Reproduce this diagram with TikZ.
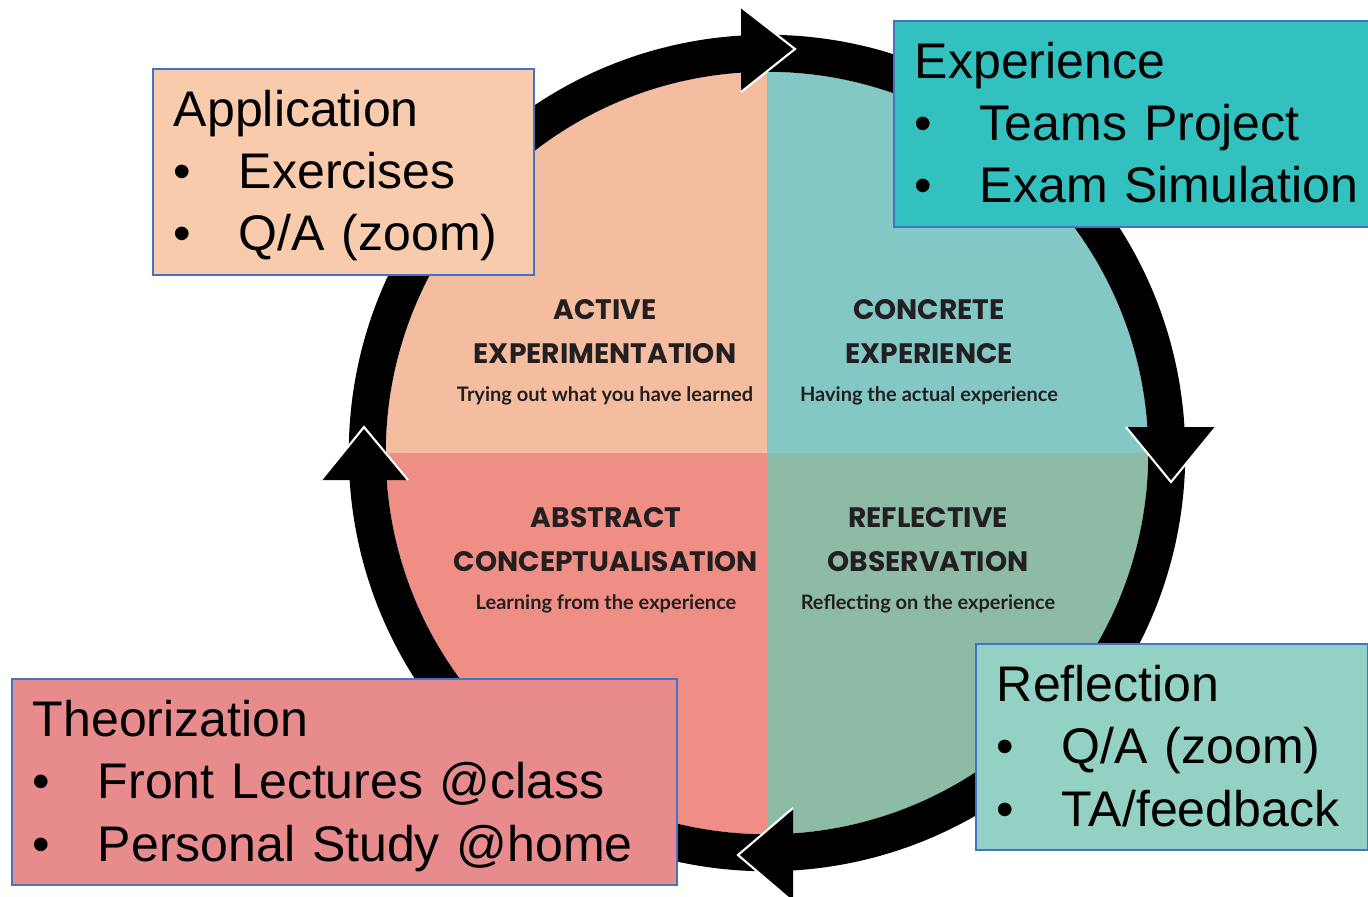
\documentclass[tikz,border=0pt]{standalone}
\usepackage{fontspec}
\setmainfont{Liberation Sans}
\newfontfamily\cyclefont{Poppins}
\newfontfamily\notefont{Lato}
\usepackage{tikz}
\usetikzlibrary{positioning}

\definecolor{boxblue}{HTML}{4472C4}
\definecolor{qactive}{HTML}{F4BD9F}
\definecolor{qconcrete}{HTML}{84C8C6}
\definecolor{qabstract}{HTML}{EE8E85}
\definecolor{qreflect}{HTML}{8EBBA6}
\definecolor{appfill}{HTML}{F8CBAD}
\definecolor{expfill}{HTML}{33C1BF}
\definecolor{theofill}{HTML}{E78B8D}
\definecolor{reffill}{HTML}{93D1C5}
\definecolor{labelink}{HTML}{231F20}

\newcommand{\itm}{\makebox[0.65cm][l]{\textbullet}}
\newcommand{\subline}[1]{{\notefont\bfseries\fontsize{5.69pt}{12.52pt}\selectfont #1}}

\tikzset{
  stagebox/.style={draw=boxblue, line width=0.5pt, anchor=north west, align=left,
    inner xsep=0.21cm, inner ysep=0.15cm, text height=0.43cm, text depth=1.33cm,
    font=\fontsize{14.23pt}{17.64pt}\selectfont},
  quadlabel/.style={text width=3.4cm, align=flush center, anchor=base, inner sep=0pt,
    text=labelink, font=\cyclefont\bfseries\fontsize{8pt}{12.52pt}\selectfont},
  tipline/.style={white, line width=0.6pt, line join=miter}
}

\begin{document}
\begin{tikzpicture}[x=0.01cm, y=-0.01cm]
    \clip (0,0) rectangle (1368,896);
    \coordinate (c) at (767,453);

    \begin{scope}
    \clip (c) circle (3.81cm);
    \fill[qactive] (c) rectangle (350,40);
    \fill[qconcrete] (c) rectangle (1190,40);
    \fill[qabstract] (c) rectangle (350,870);
    \fill[qreflect] (c) rectangle (1190,870);
    \end{scope}

    \draw[line width=0.37cm] (c) circle (3.995cm);

    \fill (741,7) -- (795,49) -- (741,92) -- cycle;
    \draw[tipline] (741,7) -- (795,49) -- (741,92);
    \fill (1126,427) -- (1171,482) -- (1216,427) -- cycle;
    \draw[tipline] (1126,427) -- (1171,482) -- (1216,427);
    \fill (793,808) -- (738,855) -- (793,902) -- cycle;
    \draw[tipline] (793,808) -- (738,855) -- (793,902);
    \fill (321,480) -- (364,427) -- (408,480) -- cycle;
    \draw[tipline] (321,480) -- (364,427) -- (408,480);

    \node[quadlabel] (active) at (605,319) {ACTIVE\\EXPERIMENTATION\\[-0.06cm]\subline{Trying out what you have learned}};
    \node[quadlabel] (concrete) at (929,319) {CONCRETE\\EXPERIENCE\\[-0.06cm]\subline{Having the actual experience}};
    \node[quadlabel] (abstract) at (606,527) {ABSTRACT\\CONCEPTUALISATION\\[-0.06cm]\subline{Learning from the experience}};
    \node[quadlabel] (reflective) at (928,527) {REFLECTIVE\\OBSERVATION\\[-0.06cm]\subline{Reflecting on the experience}};

    \node[stagebox, fill=appfill, text width=3.39cm] (application) at (152,68)
      {Application\\\itm Exercises\\\itm Q/A (zoom)};
    \node[stagebox, fill=expfill, text width=4.5cm] (experience) at (893,20)
      {Experience\\\itm Teams Project\\\itm Exam Simulation};
    \node[stagebox, fill=theofill, text width=6.23cm] (theorization) at (11,678)
      {Theorization\\\itm Front Lectures @class\\\itm Personal Study @home};
    \node[stagebox, fill=reffill, text width=3.5cm] (reflection) at (975,643)
      {Reflection\\\itm Q/A (zoom)\\\itm TA/feedback};
\end{tikzpicture}
\end{document}
